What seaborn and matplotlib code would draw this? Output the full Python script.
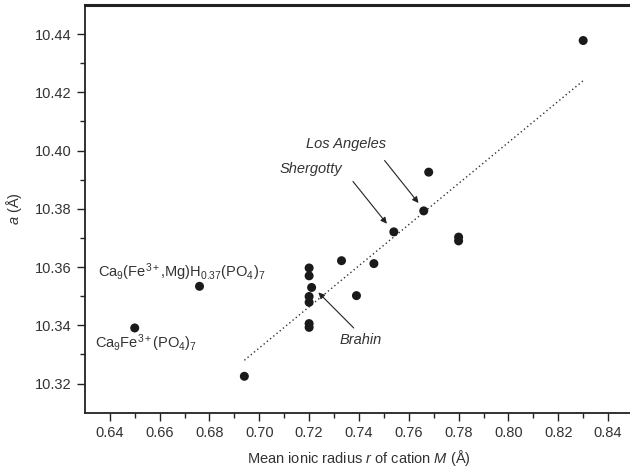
import matplotlib
matplotlib.use("Agg")
import matplotlib.pyplot as plt
import seaborn as sns
import pandas as pd

# mean ionic radius r of cation M (Å) and lattice parameter a (Å)
radius = [0.830, 0.768, 0.766, 0.754, 0.780, 0.780, 0.733, 0.746,
          0.720, 0.720, 0.721, 0.720, 0.720, 0.739, 0.720, 0.720,
          0.676, 0.650, 0.694]
a_param = [10.4378, 10.3926, 10.3793, 10.3721, 10.3703, 10.3690, 10.3622, 10.3612,
           10.3597, 10.3570, 10.3530, 10.3499, 10.3479, 10.3502, 10.3406, 10.3393,
           10.3534, 10.3391, 10.3225]

# dotted trend line, end points
fit_x = [0.694, 0.830]
fit_y = [10.328, 10.424]

xticks = [0.64, 0.66, 0.68, 0.70, 0.72, 0.74, 0.76, 0.78, 0.80, 0.82, 0.84]
xminor = [0.65, 0.67, 0.69, 0.71, 0.73, 0.75, 0.77, 0.79, 0.81, 0.83]
yticks = [10.32, 10.34, 10.36, 10.38, 10.40, 10.42, 10.44]
yminor = [10.33, 10.35, 10.37, 10.39, 10.41, 10.43]

df = pd.DataFrame({"r": radius, "a": a_param})
fit_df = pd.DataFrame({"r": fit_x, "a": fit_y})

sns.set_theme(style="ticks")
plt.rcParams["font.family"] = ["Liberation Sans", "DejaVu Sans"]
plt.rcParams["mathtext.fontset"] = "custom"
plt.rcParams["mathtext.rm"] = "Liberation Sans"
plt.rcParams["mathtext.it"] = "Liberation Sans:italic"

fig = plt.figure(figsize=(6.3, 4.7), dpi=100)
ax = fig.add_axes([84.9 / 630, 1 - 412.7 / 470, (633 - 84.9) / 630, (412.7 - 5) / 470])

sns.lineplot(data=fit_df, x="r", y="a", ax=ax, color="#333333",
             linestyle=(0, (1, 2)), linewidth=1.0)
sns.scatterplot(data=df, x="r", y="a", ax=ax, color="#1a1a1a", s=42,
                edgecolor="none", zorder=3)

ax.set_xlim(0.63, 0.85)
ax.set_ylim(10.31, 10.45)
ax.set_xticks(xticks)
ax.set_yticks(yticks)
ax.set_xticklabels([f"{v:.2f}" for v in xticks])
ax.set_yticklabels([f"{v:.2f}" for v in yticks])
ax.set_xticks(xminor, minor=True)
ax.set_yticks(yminor, minor=True)
ax.tick_params(which="major", direction="out", length=6, width=1.0, colors="#222222",
               labelsize=10.5, labelcolor="#333333")
ax.tick_params(which="minor", direction="out", length=3.5, width=1.0, colors="#222222")

for side in ["left", "bottom"]:
    ax.spines[side].set_linewidth(1.3)
    ax.spines[side].set_color("#222222")
ax.spines["top"].set_visible(True)
ax.spines["top"].set_linewidth(2.2)
ax.spines["top"].set_color("#222222")
ax.spines["right"].set_visible(False)

ax.set_xlabel(r"Mean ionic radius $\it{r}$ of cation $\it{M}$ (Å)", fontsize=10.5,
              color="#333333", labelpad=6)
ax.set_ylabel(r"$\it{a}$ (Å)", fontsize=10.5, color="#333333", labelpad=8)

arrow = dict(arrowstyle="-|>", lw=0.8, color="#222222", mutation_scale=9,
             shrinkA=0, shrinkB=0)
txt = dict(fontsize=10.5, color="#333333", style="italic", ha="center", va="center")

ax.text(0.7348, 10.4023, "Los Angeles", **txt)
ax.annotate("", xy=(0.7639, 10.3820), xytext=(0.7503, 10.3966), arrowprops=arrow)
ax.text(0.7209, 10.3937, "Shergotty", **txt)
ax.annotate("", xy=(0.7512, 10.3749), xytext=(0.7376, 10.3894), arrowprops=arrow)
ax.text(0.7408, 10.3349, "Brahin", **txt)
ax.annotate("", xy=(0.7237, 10.3513), xytext=(0.7379, 10.3391), arrowprops=arrow)

ax.text(0.6353, 10.3582, r"Ca$_9$(Fe$^{3+}$,Mg)H$_{0.37}$(PO$_4$)$_7$",
        fontsize=10.5, color="#333333", ha="left", va="center")
ax.text(0.6339, 10.3340, r"Ca$_9$Fe$^{3+}$(PO$_4$)$_7$",
        fontsize=10.5, color="#333333", ha="left", va="center")

fig.savefig("out.png", dpi=100)
